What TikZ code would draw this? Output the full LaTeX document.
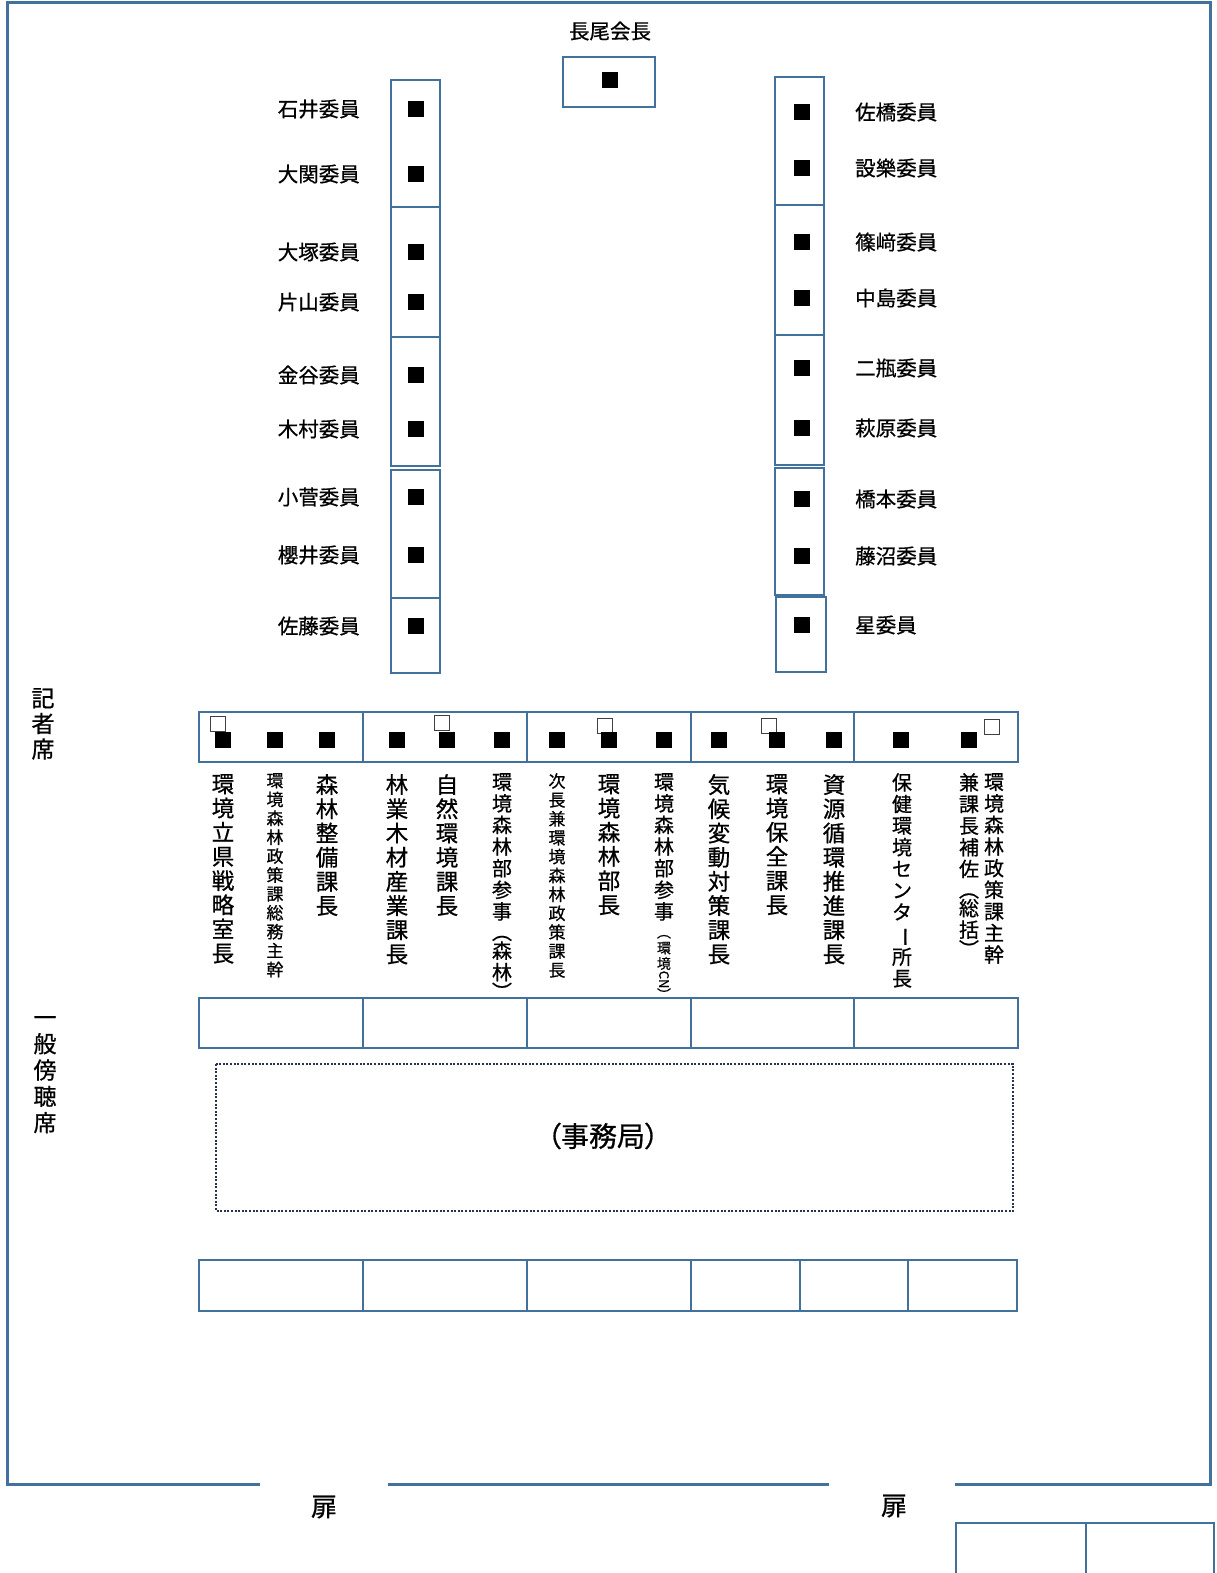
\documentclass[tikz,border=0pt]{standalone}
\usepackage{fontspec}
\usepackage{graphicx}
\setmainfont{Noto Sans CJK JP}[RawFeature={embolden=0.7}]
\newfontfamily\jpprop[RawFeature={+palt;embolden=0.7}]{Noto Sans CJK JP}
\usepackage{tikz}
\definecolor{deskblue}{RGB}{65,113,156}
\definecolor{dotgray}{RGB}{40,50,75}
\newcommand{\vrot}[1]{\rotatebox[origin=c]{-90}{#1}}

\begin{document}
\begin{tikzpicture}[x=1pt,y=-1pt,
	desk/.style={draw=deskblue,line width=2.5pt},
	seat/.style={fill=black,inner sep=0pt,minimum size=15.5pt},
	spare/.style={draw=black!75,line width=0.8pt,fill=white,inner sep=0pt,minimum size=15.5pt},
	member/.style={inner sep=0pt,font=\fontsize{20.5}{24}\selectfont},
	tate/.style={inner sep=0pt,anchor=north,align=center,font=\fontsize{22.5}{24.2}\selectfont},
	tatemid/.style={tate,font=\fontsize{20}{21.6}\selectfont},
	tatesmall/.style={tate,font=\fontsize{17}{18.9}\selectfont}]
	\useasboundingbox (0,0) rectangle (1216,1573);
	%
	\draw[deskblue,line width=3pt] (260,1484) -- (7,1484) -- (7,3) -- (1210,3) -- (1210,1484) -- (955,1484);
	\draw[deskblue,line width=3pt] (388,1484) -- (829,1484);
	\node[font=\fontsize{26}{30}\selectfont] (door1) at (324,1507) {扉};
	\node[font=\fontsize{26}{30}\selectfont] (door2) at (894,1506) {扉};
	\draw[desk] (956,1523) rectangle (1086,1576);
	\draw[desk] (1086,1523) rectangle (1214,1576);
	%
	\draw[desk] (563,57) rectangle (655,107);
	\node[seat] (chair) at (610,80) {};
	\node[member] (chairname) at (610,31) {長尾会長};
	%
	\foreach \a/\b in {80/207,207/337,337/466,470/598,598/673}
		\draw[desk] (391,\a) rectangle (440,\b);
	\foreach \y/\n [count=\i] in {109/石井委員,174/大関委員,252/大塚委員,302/片山委員,375/金谷委員,429/木村委員,497/小菅委員,555/櫻井委員,626/佐藤委員}{
		\node[seat] (l\i) at (416,\y) {};
		\node[member,anchor=east] (ln\i) at (360,\y) {\n};
	}
	%
	\foreach \a/\b in {77/205,205/335,335/465,468/595}
		\draw[desk] (775,\a) rectangle (824,\b);
	\draw[desk] (776,597) rectangle (826,672);
	\foreach \y/\n [count=\i] in {112/佐橋委員,168/設樂委員,242/篠﨑委員,298/中島委員,368/二瓶委員,428/萩原委員,499/橋本委員,556/藤沼委員,625/星委員}{
		\node[seat] (r\i) at (802,\y) {};
		\node[member,anchor=west] (rn\i) at (855,\y) {\n};
	}
	%
	\node[tate,font=\fontsize{23}{25.5}\selectfont] (press) at (43,688) {記\\者\\席};
	\node[tate,font=\fontsize{23}{26.3}\selectfont] (public) at (45,1016) {一\\般\\傍\\聴\\席};
	%
	\foreach \a/\b in {199/363,363/527,527/691,691/854,854/1018}{
		\draw[desk] (\a,712) rectangle (\b,762);
		\draw[desk] (\a,998) rectangle (\b,1048);
	}
	\foreach \x/\y [count=\i] in {218/724,442/723,605/726,769/726,992/727}
		\node[spare] (s\i) at (\x,\y) {};
	\foreach \x [count=\i] in {223,275,327,397,447,502,557,609,664,719,777,834,901,969}
		\node[seat] (t\i) at (\x,740) {};
	%
	\node[tate] (p1) at (223,774) {環\\境\\立\\県\\戦\\略\\室\\長};
	\node[tatesmall] (p2) at (275,773) {環\\境\\森\\林\\政\\策\\課\\総\\務\\主\\幹};
	\node[tate] (p3) at (327,774) {森\\林\\整\\備\\課\\長};
	\node[tate] (p4) at (397,774) {林\\業\\木\\材\\産\\業\\課\\長};
	\node[tate] (p5) at (447,774) {自\\然\\環\\境\\課\\長};
	\node[tatemid] (p6) at (502,773) {環\\境\\森\\林\\部\\参\\事\\[-1pt]︵\\[-3pt]森\\林\\[-2pt]︶};
	\node[tatesmall] (p7) at (557,773) {次\\長\\兼\\環\\境\\森\\林\\政\\策\\課\\長};
	\node[tate] (p8) at (609,774) {環\\境\\森\\林\\部\\長};
	\node[tatemid] (p9) at (664,773) {環\\境\\森\\林\\部\\参\\事\\[-3pt]{\fontsize{14}{15}\selectfont ︵}\\[-6pt]{\fontsize{14}{15}\selectfont 環}\\[-6pt]{\fontsize{14}{15}\selectfont 境}\\[-6pt]{\fontsize{13}{15}\selectfont\vrot{CN}}\\[-6pt]{\fontsize{14}{15}\selectfont ︶}};
	\node[tate] (p10) at (719,774) {気\\候\\変\\動\\対\\策\\課\\長};
	\node[tate] (p11) at (777,774) {環\\境\\保\\全\\課\\長};
	\node[tate] (p12) at (834,774) {資\\源\\循\\環\\推\\進\\課\\長};
	\node[tatemid] (p13) at (902,773) {保\\健\\環\\境\\セ\\ン\\タ\\\vrot{ー}\\所\\長};
	\node[tatemid] (p14) at (994,773) {環\\境\\森\\林\\政\\策\\課\\主\\幹};
	\node[tatemid] (p15) at (969,773) {兼\\課\\長\\補\\佐\\[-1pt]︵\\[-3pt]総\\括\\[-2pt]︶};
	%
	\draw[dotgray,line width=2pt,dash pattern=on 2pt off 1.6pt] (216,1064) rectangle (1013,1211);
	\node[font=\jpprop\fontsize{28}{32}\selectfont] (office) at (603,1136) {（事務局）};
	%
	\foreach \a/\b in {199/363,363/527,527/691,691/800,800/908,908/1017}
		\draw[desk] (\a,1260) rectangle (\b,1311);
\end{tikzpicture}
\end{document}
